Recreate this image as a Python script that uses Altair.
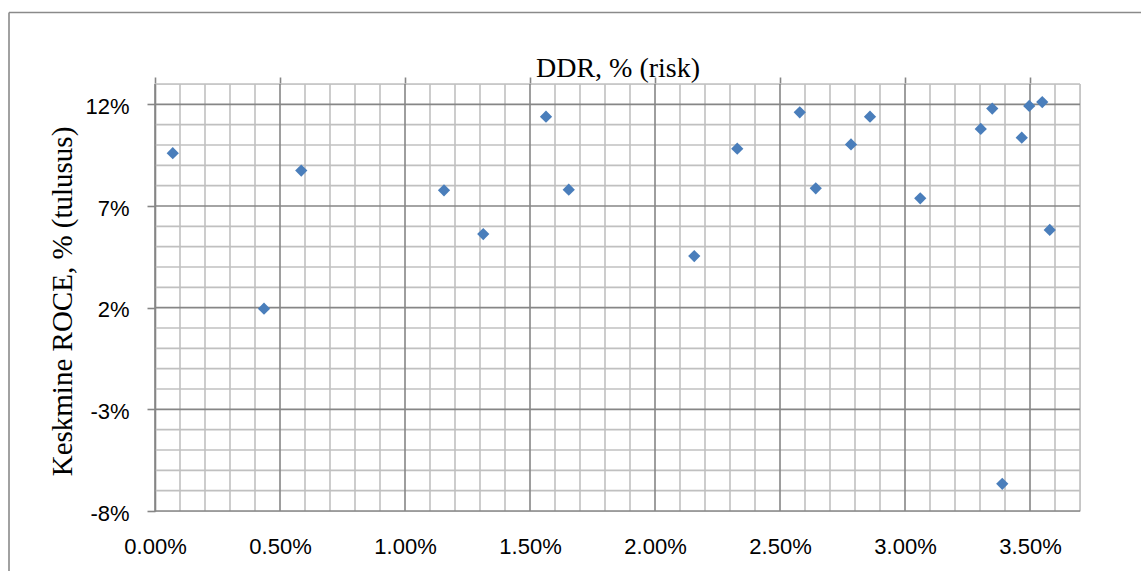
import altair as alt
import pandas as pd

# Data (percent units)
ddr = [0.071, 0.436, 0.585, 1.156, 1.313, 1.564, 1.655, 2.157, 2.329, 2.579, 2.643,
       2.784, 2.860, 3.061, 3.303, 3.349, 3.389, 3.467, 3.497, 3.549, 3.579]
roce = [9.60, 1.95, 8.74, 7.77, 5.62, 11.39, 7.80, 4.54, 9.82, 11.61, 7.87,
        10.03, 11.39, 7.38, 10.79, 11.79, -6.66, 10.36, 11.92, 12.11, 5.82]

x_major_ticks = [0.0, 0.5, 1.0, 1.5, 2.0, 2.5, 3.0, 3.5]
x_minor_ticks = [0.1, 0.2, 0.3, 0.4, 0.6, 0.7, 0.8, 0.9, 1.1, 1.2, 1.3, 1.4,
                 1.6, 1.7, 1.8, 1.9, 2.1, 2.2, 2.3, 2.4, 2.6, 2.7, 2.8, 2.9,
                 3.1, 3.2, 3.3, 3.4, 3.6, 3.7]
y_major_ticks = [-8, -3, 2, 7, 12]
y_minor_ticks = [-7, -6, -5, -4, -2, -1, 0, 1, 3, 4, 5, 6, 8, 9, 10, 11, 13]

x_title = "DDR, % (risk)"
y_title = "Keskmine ROCE, % (tulusus)"

MINOR = "#C0C0C0"
MAJOR = "#868686"
FRAME = "#8A8A8A"
BLUE = "#4A7EBB"
SW = 1.6

xs = alt.Scale(domain=[0, 3.7], nice=False, zero=False)
ys = alt.Scale(domain=[-8, 13], nice=False, zero=False)

minor_v = alt.Chart(pd.DataFrame({"v": x_minor_ticks})).mark_rule(
    color=MINOR, strokeWidth=SW).encode(x=alt.X("v:Q", scale=xs, axis=None))
minor_h = alt.Chart(pd.DataFrame({"v": y_minor_ticks})).mark_rule(
    color=MINOR, strokeWidth=SW).encode(y=alt.Y("v:Q", scale=ys, axis=None))

major_v = alt.Chart(pd.DataFrame({"v": x_major_ticks})).mark_rule(
    color=MAJOR, strokeWidth=SW).encode(
    x=alt.X("v:Q", scale=xs, axis=alt.Axis(
        orient="top", values=x_major_ticks, labels=False, ticks=True,
        tickSize=7, tickColor=MAJOR, tickWidth=SW, domain=False, grid=False,
        title=x_title, titleFont="Liberation Serif", titleFontSize=28,
        titleFontWeight="normal", titleColor="black", titleY=-16,
        titleBaseline="middle")))
major_h = alt.Chart(pd.DataFrame({"v": y_major_ticks})).mark_rule(
    color=MAJOR, strokeWidth=SW).encode(y=alt.Y("v:Q", scale=ys, axis=None))

frame_src = pd.DataFrame({"k": [0]})
frame_top = alt.Chart(frame_src).mark_rule(color=FRAME, strokeWidth=SW).encode(
    x=alt.value(-146), x2=alt.value(1000), y=alt.value(-71.5))
frame_left = alt.Chart(frame_src).mark_rule(color=FRAME, strokeWidth=SW).encode(
    x=alt.value(-146), y=alt.value(-71.5), y2=alt.value(520))

points = alt.Chart(pd.DataFrame({"ddr": ddr, "roce": roce})).mark_point(
    shape="diamond", filled=True, size=150, color=BLUE, opacity=1).encode(
    x=alt.X("ddr:Q", scale=xs, axis=alt.Axis(
        orient="bottom", values=x_major_ticks,
        labelExpr="format(datum.value, '.2f') + '%'",
        ticks=False, tickSize=0, domain=False, grid=False, title="",
        labelFont="Liberation Sans", labelFontSize=22, labelColor="black",
        labelPadding=25, labelFlush=False, labelOverlap=False)),
    y=alt.Y("roce:Q", scale=ys, axis=alt.Axis(
        orient="left", values=y_major_ticks,
        labelExpr="datum.value + '%'",
        ticks=True, tickSize=8, tickColor=MAJOR, tickWidth=SW,
        domain=True, domainColor=MAJOR, domainWidth=SW, grid=False,
        labelFont="Liberation Sans", labelFontSize=22, labelColor="black",
        labelPadding=18, labelOffset=2, labelFlush=False, labelOverlap=False,
        title=y_title, titleFont="Liberation Serif", titleFontSize=29,
        titleFontWeight="normal", titleColor="black", titleAngle=270,
        titleX=-93, titleY=217, titleBaseline="middle")),
)

chart = alt.layer(
    frame_top, frame_left, minor_v, minor_h, major_v, major_h, points
).resolve_axis(x="independent", y="independent").properties(
    width=925, height=427,
    autosize=alt.AutoSizeParams(type="none"),
    padding={"left": 155, "top": 84, "right": 61, "bottom": 60},
).configure_view(stroke=None).configure(background="white")

chart.save("out.html", embed_options={"renderer": "svg", "actions": False})
